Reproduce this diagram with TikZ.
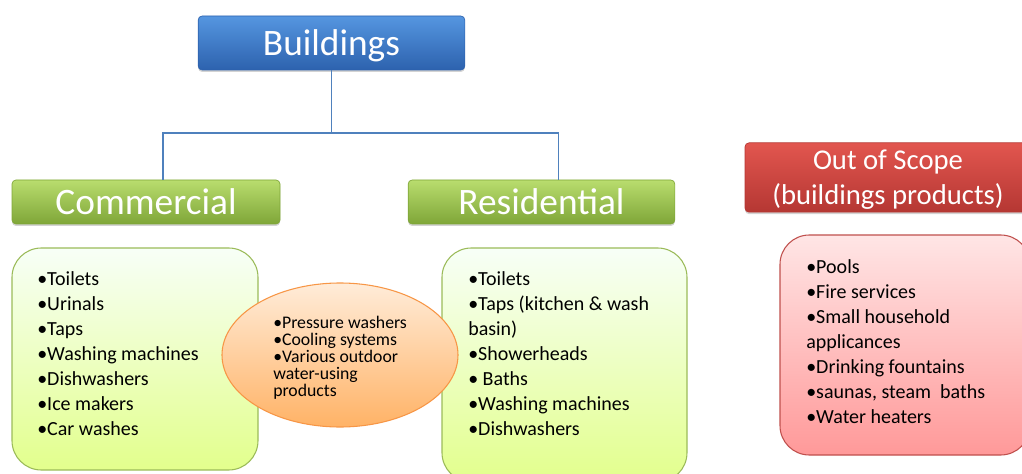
\documentclass[tikz,border=0pt]{standalone}
\usepackage{fontspec}
\setmainfont{Carlito}
\usetikzlibrary{shapes.geometric,shadows}

\definecolor{bluetop}{HTML}{5596E0}
\definecolor{bluebot}{HTML}{2D62AE}
\definecolor{greentop}{HTML}{B9DD6E}
\definecolor{greenbot}{HTML}{7FA638}
\definecolor{redtop}{HTML}{E2564F}
\definecolor{redbot}{HTML}{B53733}
\definecolor{linegreen}{HTML}{9BBB59}
\definecolor{lineorange}{HTML}{F79646}
\definecolor{linered}{HTML}{C0504D}
\definecolor{treeblue}{HTML}{4F81BD}

\begin{document}
\begin{tikzpicture}[x=0.75pt,y=-0.75pt,
    head node/.style={rectangle,rounded corners=3pt,inner sep=0pt,text=white,line width=0.5pt,
                      drop shadow={shadow xshift=0pt,shadow yshift=-1.5pt,opacity=.35}},
    list box/.style={rectangle,rounded corners=22pt,line width=0.8pt},
    list text/.style={anchor=north west,inner sep=0pt,align=left,
                      font={\fontsize{15}{18.75}\selectfont}},
    tree/.style={draw=treeblue,line width=0.8pt}]
  \useasboundingbox (0,0) rectangle (1022,474);

  % headers
  \node[head node,draw=bluebot,top color=bluetop,bottom color=bluebot,text depth=0pt,
        minimum width=200pt,minimum height=40.5pt,font=\fontsize{28}{32}\selectfont]
        (1) at (331.5,43) {Buildings};
  \node[head node,draw=greenbot,top color=greentop,bottom color=greenbot,
        minimum width=201pt,minimum height=33pt,font=\fontsize{28}{32}\selectfont]
        (2) at (146,202) {Commercial};
  \node[head node,draw=greenbot,top color=greentop,bottom color=greenbot,
        minimum width=200pt,minimum height=33pt,font=\fontsize{28}{32}\selectfont]
        (3) at (541.5,202) {Residential};
  \node[head node,draw=redbot,top color=redtop,bottom color=redbot,align=center,text depth=0pt,
        minimum width=214.5pt,minimum height=52pt,font=\fontsize{21.5}{26}\selectfont]
        (4) at (888,177.5) {Out of Scope\\(buildings products)};

  % tree
  \coordinate (split) at (331.5,133);
  \draw[tree] (1.south) -- (split) -| ([shift={(17,0)}]2.north);
  \draw[tree] (split) -| ([shift={(17,0)}]3.north);

  % boxes
  \node[list box,draw=linegreen,top color=green!3!white,bottom color=green!25!yellow!45!white,
        minimum width=184.5pt,minimum height=166.5pt] (5) at (135,359) {};
  \node[list box,draw=linegreen,top color=green!3!white,bottom color=green!25!yellow!45!white,
        minimum width=183.75pt,minimum height=175.5pt] (6) at (564.5,365) {};
  \node[list box,draw=linered,top color=red!10!white,bottom color=red!40!white,
        minimum width=187.5pt,minimum height=165pt] (7) at (905,345) {};
  \node[ellipse,draw=lineorange,line width=0.8pt,top color=orange!15!white,bottom color=orange!60!white,
        minimum width=177pt,minimum height=108pt] (8) at (340,355) {};

  % lists
  \node[list text] (5t) at (37,271)
    {•Toilets\\•Urinals\\•Taps\\•Washing machines\\•Dishwashers\\•Ice makers\\•Car washes};
  \node[list text] (6t) at (468,271)
    {•Toilets\\•Taps (kitchen \& wash\\basin)\\•Showerheads\\• Baths\\•Washing machines\\•Dishwashers};
  \node[list text] (7t) at (806,259)
    {•Pools\\•Fire services\\•Small household\\applicances\\•Drinking fountains\\•saunas, steam~ baths\\•Water heaters};
  \node[list text,font={\fontsize{13.3}{12.8}\selectfont}] (8t) at (273,316)
    {•Pressure washers\\•Cooling systems\\•Various outdoor\\water-using\\products};
\end{tikzpicture}
\end{document}
